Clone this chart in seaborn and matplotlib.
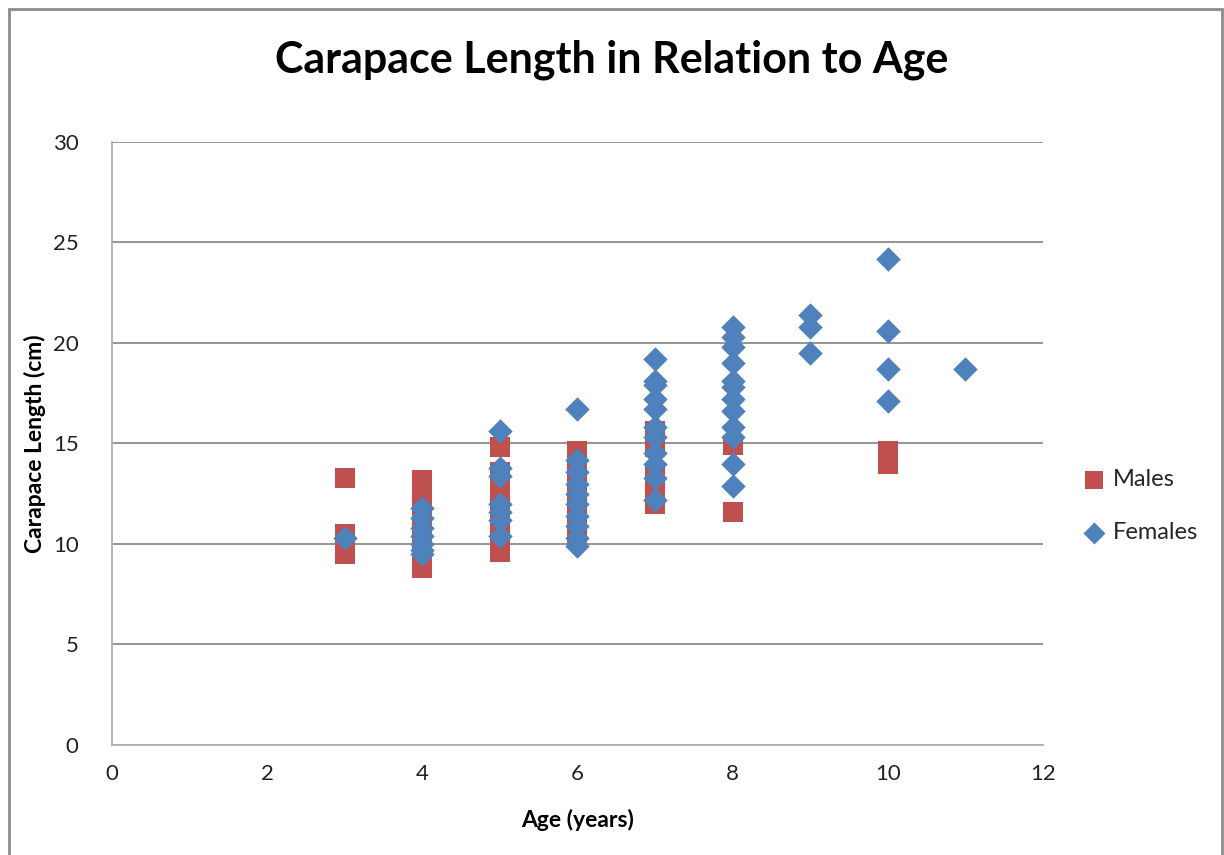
import pandas as pd
import seaborn as sns
import matplotlib.pyplot as plt
from matplotlib.patches import Rectangle

# Males (red squares)
male_age = [3, 3, 3,
            4, 4, 4, 4, 4, 4, 4,
            5, 5, 5, 5, 5, 5, 5,
            6, 6, 6, 6, 6, 6, 6,
            7, 7, 7, 7, 7,
            8, 8,
            10, 10]
male_len = [13.3, 10.5, 9.5,
            13.2, 12.5, 11.8, 11.0, 10.3, 9.6, 8.8,
            14.8, 13.6, 12.8, 12.0, 11.2, 10.4, 9.6,
            14.6, 13.8, 13.0, 12.2, 11.5, 10.8, 10.3,
            15.6, 14.8, 13.5, 12.8, 12.0,
            14.9, 11.6,
            14.6, 14.0]

# Females (blue diamonds)
female_age = [3,
              4, 4, 4, 4, 4, 4, 4,
              5, 5, 5, 5, 5, 5, 5,
              6, 6, 6, 6, 6, 6, 6, 6, 6, 6,
              7, 7, 7, 7, 7, 7, 7, 7, 7, 7, 7,
              8, 8, 8, 8, 8, 8, 8, 8, 8, 8, 8, 8,
              9, 9, 9,
              10, 10, 10, 10,
              11]
female_len = [10.3,
              11.8, 11.3, 10.8, 10.4, 10.0, 9.7, 9.5,
              15.6, 13.8, 13.4, 12.0, 11.6, 11.2, 10.4,
              16.7, 14.2, 13.6, 13.0, 12.5, 12.0, 11.4, 10.9, 10.3, 9.9,
              19.2, 18.1, 17.9, 17.2, 16.7, 15.8, 15.3, 14.5, 14.0, 13.3, 12.2,
              20.8, 20.3, 19.8, 19.0, 18.1, 17.8, 17.2, 16.6, 15.8, 15.3, 14.0, 12.9,
              21.4, 20.8, 19.5,
              24.2, 20.6, 18.7, 17.1,
              18.7]

df = pd.DataFrame({
    'Age': male_age + female_age,
    'Length': male_len + female_len,
    'Sex': ['Males'] * len(male_age) + ['Females'] * len(female_age),
})

sns.set_style('white')
plt.rcParams['font.family'] = ['Lato', 'DejaVu Sans']

fig = plt.figure(figsize=(12.24, 8.55), dpi=100)
ax = fig.add_axes([0.0915, 0.1287, 0.7605, 0.7053])

palette = {'Males': '#C0504D', 'Females': '#4F81BD'}
sns.scatterplot(data=df[df.Sex == 'Males'], x='Age', y='Length', color=palette['Males'],
                marker='s', s=210, linewidth=0, ax=ax, label='Males')
sns.scatterplot(data=df[df.Sex == 'Females'], x='Age', y='Length', color=palette['Females'],
                marker='D', s=155, linewidth=0, ax=ax, label='Females')

ax.set_xlim(0, 12)
ax.set_ylim(0, 30)
ax.set_xticks(range(0, 13, 2))
ax.set_yticks(range(0, 31, 5))
ax.yaxis.grid(True, color='#8c8c8c', linewidth=1.3)
ax.set_axisbelow(True)
for side in ['top', 'right']:
    ax.spines[side].set_visible(False)
for side in ['left', 'bottom']:
    ax.spines[side].set_color('#b0b0b0')
    ax.spines[side].set_linewidth(1.3)
ax.tick_params(axis='both', labelsize=16, colors='#222222', length=0)
ax.tick_params(axis='x', pad=14)
ax.tick_params(axis='y', pad=24)

ax.set_xlabel('Age (years)', fontsize=16.5, fontweight='bold', color='black', labelpad=18)
ax.set_ylabel('Carapace Length (cm)', fontsize=16.5, fontweight='bold', color='black', labelpad=5)
fig.text(0.5, 0.93, 'Carapace Length in Relation to Age', ha='center', va='center',
         fontsize=31, fontweight='bold', color='black')

ax.legend(loc='center left', bbox_to_anchor=(1.013, 0.396), frameon=False,
          fontsize=17, handletextpad=0.05, handlelength=1.5, labelspacing=1.35,
          markerscale=0.9)

fig.patches.append(Rectangle((0.007, -0.1), 0.991, 1.09, transform=fig.transFigure,
                             fill=False, edgecolor='#8c8c8c', linewidth=2))

fig.savefig('out.png', dpi=100)
